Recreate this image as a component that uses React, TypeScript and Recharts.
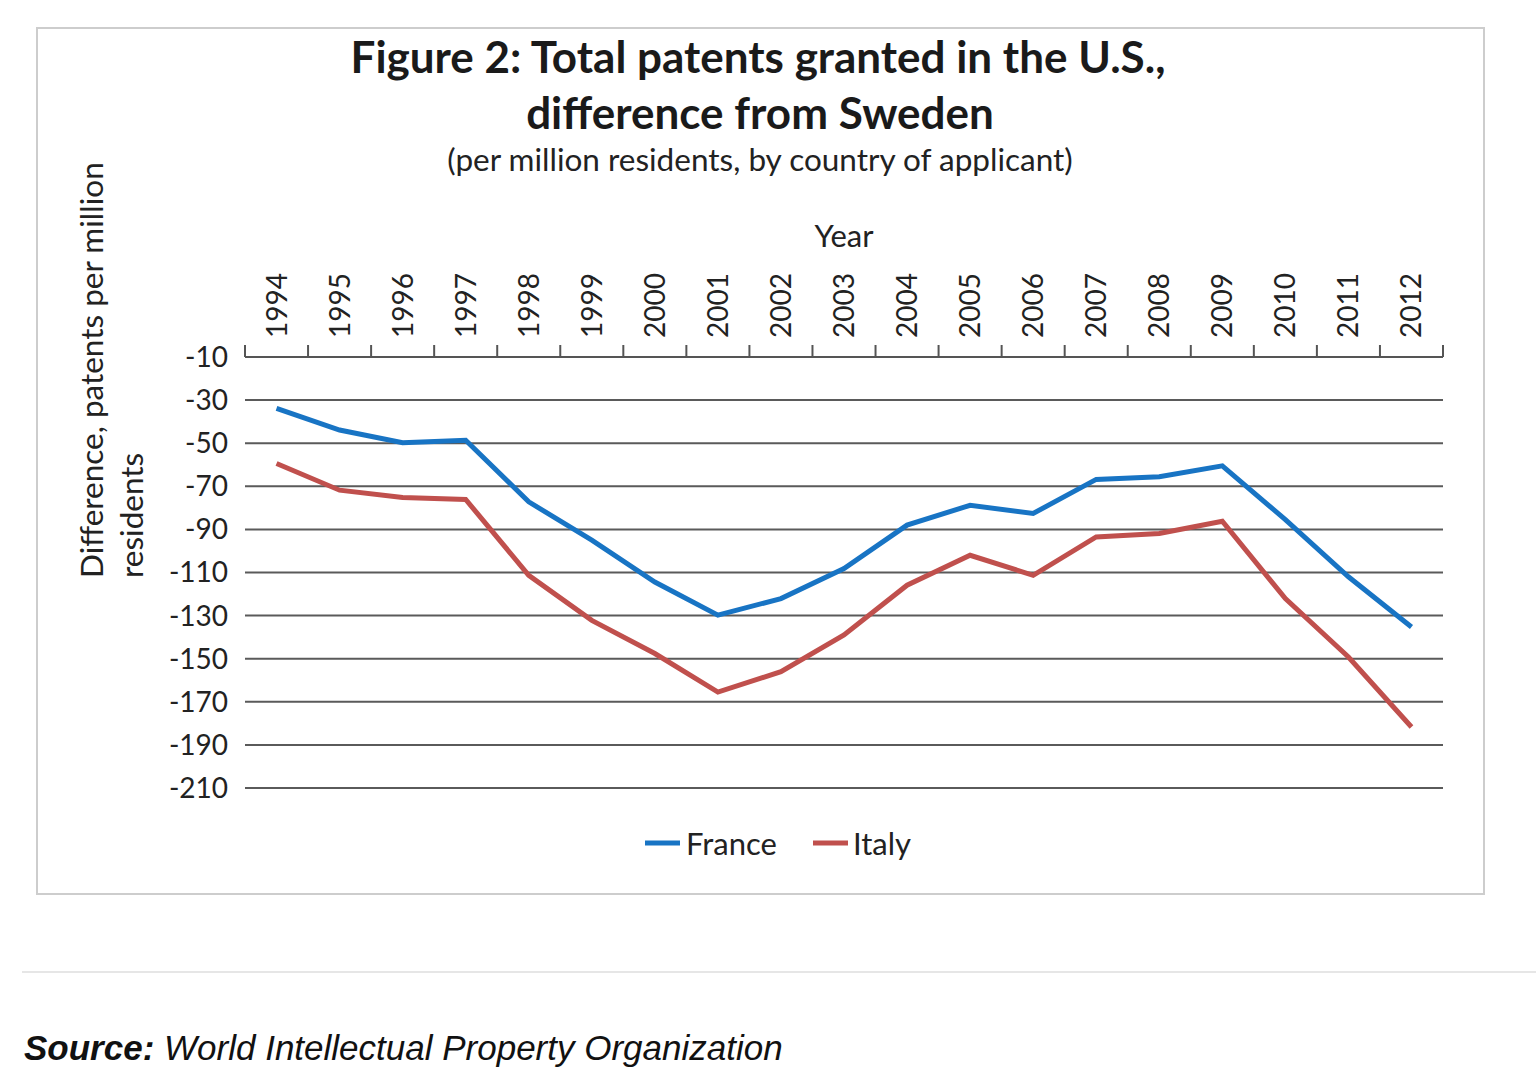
import React from 'react'
import { LineChart, Line, XAxis, YAxis, CartesianGrid } from 'recharts'

const years = [
  '1994', '1995', '1996', '1997', '1998', '1999', '2000', '2001', '2002', '2003',
  '2004', '2005', '2006', '2007', '2008', '2009', '2010', '2011', '2012',
]
const france = [
  -33.8, -43.9, -49.8, -48.6, -77.2, -95, -114.4, -129.8, -122.1, -108.2,
  -88, -78.8, -82.6, -66.8, -65.6, -60.5, -85.5, -112, -135.3,
]
const italy = [
  -59.4, -71.8, -75.2, -76.1, -111.3, -132.2, -147.6, -165.5, -156, -139,
  -115.9, -102, -111.3, -93.5, -91.9, -86.2, -122.1, -149.2, -181.7,
]
const yTicks = [-10, -30, -50, -70, -90, -110, -130, -150, -170, -190, -210]

const series = [
  { key: 'france', name: 'France', color: '#1874C4' },
  { key: 'italy', name: 'Italy', color: '#C0504D' },
]

const data = years.map((year, i) => ({ year, france: france[i], italy: italy[i] }))

const FONT = 'Lato, "Open Sans", sans-serif'
const CHART_W = 1445
const CHART_H = 864
const margin = { top: 224, right: 40, left: 0, bottom: 105 }
const Y_WIDTH = 207
const step = (CHART_W - Y_WIDTH - margin.right) / years.length

function YearTick(props: any) {
  const { x, y, payload, index } = props
  const left = x - step / 2
  const right = x + step / 2
  return (
    <g>
      <line x1={left} y1={y} x2={left} y2={y - 12} stroke="#555" strokeWidth={2} />
      {index === years.length - 1 && (
        <line x1={right} y1={y} x2={right} y2={y - 12} stroke="#555" strokeWidth={2} />
      )}
      <text
        transform={`translate(${x + 10},${y - 19}) rotate(-90)`}
        textAnchor="start"
        fontFamily={FONT}
        fontSize={28}
        fill="#222"
      >
        {payload.value}
      </text>
    </g>
  )
}

export default function App() {
  return (
    <div style={{ position: 'absolute', left: 0, top: 0, width: 1536, height: 1086, background: '#fff' }}>
      <div
        style={{
          position: 'absolute',
          left: 36,
          top: 27,
          width: CHART_W,
          height: CHART_H,
          border: '2px solid #cdcdcd',
        }}
      >
        <LineChart width={CHART_W} height={CHART_H} data={data} margin={margin}>
          <CartesianGrid vertical={false} stroke="#5a5a5a" strokeWidth={2} />
          <XAxis
            dataKey="year"
            orientation="top"
            height={104}
            interval={0}
            padding={{ left: step / 2, right: step / 2 }}
            tickSize={0}
            tickMargin={0}
            tickLine={false}
            axisLine={{ stroke: '#555', strokeWidth: 2 }}
            tick={<YearTick />}
            label={{ value: 'Year', position: 'top', offset: 6, fontFamily: FONT, fontSize: 31, fill: '#222' }}
          />
          <YAxis
            type="number"
            domain={[-210, -10]}
            ticks={yTicks}
            width={Y_WIDTH}
            tickSize={0}
            tickMargin={17}
            tickLine={false}
            axisLine={false}
            tick={{ fontFamily: FONT, fontSize: 28, fill: '#222' }}
          />
          {series.map((s) => (
            <Line
              key={s.key}
              dataKey={s.key}
              name={s.name}
              type="linear"
              stroke={s.color}
              strokeWidth={5}
              dot={false}
              isAnimationActive={false}
            />
          ))}
        </LineChart>
      </div>

      <svg
        width={1536}
        height={1086}
        style={{ position: 'absolute', left: 0, top: 0, pointerEvents: 'none' }}
      >
        <text x={758} y={73} textAnchor="middle" fontFamily={FONT} fontWeight={700} fontSize={44} fill="#1a1a1a">
          Figure 2: Total patents granted in the U.S.,
        </text>
        <text x={760} y={129} textAnchor="middle" fontFamily={FONT} fontWeight={700} fontSize={44} fill="#1a1a1a">
          difference from Sweden
        </text>
        <text x={760} y={171} textAnchor="middle" fontFamily={FONT} fontSize={31.5} fill="#222">
          (per million residents, by country of applicant)
        </text>

        <text transform="translate(103,578) rotate(-90)" textAnchor="start" fontFamily={FONT} fontSize={31.5} fill="#222">
          Difference, patents per million
        </text>
        <text transform="translate(143,578) rotate(-90)" textAnchor="start" fontFamily={FONT} fontSize={31.5} fill="#222">
          residents
        </text>

        <line x1={645} y1={843} x2={680} y2={843} stroke={series[0].color} strokeWidth={5} />
        <text x={686} y={855} fontFamily={FONT} fontSize={31} fill="#222">
          {series[0].name}
        </text>
        <line x1={813} y1={843} x2={848} y2={843} stroke={series[1].color} strokeWidth={5} />
        <text x={853} y={855} fontFamily={FONT} fontSize={31} fill="#222">
          {series[1].name}
        </text>

        <line x1={22} y1={972} x2={1536} y2={972} stroke="#e6e6e6" strokeWidth={2} />
        <text x={24} y={1060} fontFamily='"Liberation Sans", Arial, sans-serif' fontStyle="italic" fontSize={35} fill="#111">
          <tspan fontWeight={700}>Source:</tspan>
          <tspan> World Intellectual Property Organization</tspan>
        </text>
      </svg>
    </div>
  )
}
